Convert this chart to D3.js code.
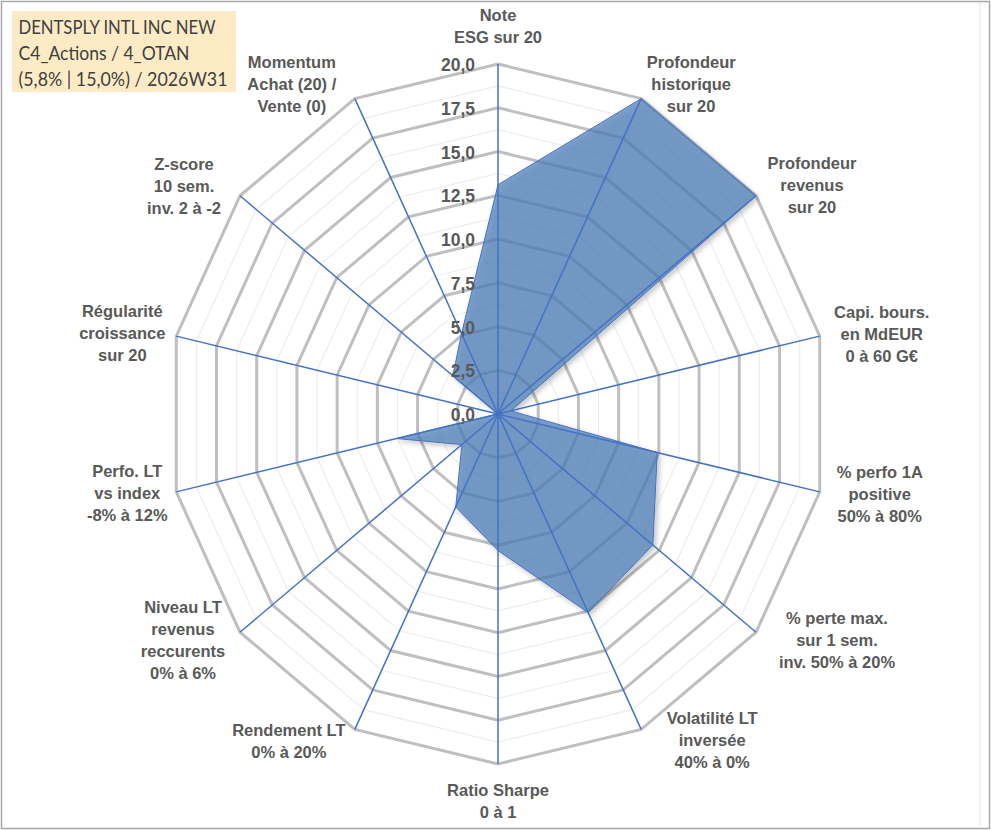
<!DOCTYPE html>
<html>
<head>
<meta charset="utf-8">
<script src="https://cdn.jsdelivr.net/npm/d3@7"></script>
<style>
  html, body { margin: 0; padding: 0; background: #fff; }
  svg { display: block; }
  .lbl { font-family: "Liberation Sans", Arial, sans-serif; font-weight: bold; }
  .ttl { font-family: "Lato", "Open Sans", sans-serif; }
</style>
</head>
<body>
<svg id="chart" width="991" height="830"></svg>
<script>
// ---- Data ----
const axisLabels = [
  ["Note", "ESG sur 20"],
  ["Profondeur", "historique", "sur 20"],
  ["Profondeur", "revenus", "sur 20"],
  ["Capi. bours.", "en MdEUR", "0 à 60 G€"],
  ["% perfo 1A", "positive", "50% à 80%"],
  ["% perte max.", "sur 1 sem.", "inv. 50% à 20%"],
  ["Volatilité LT", "inversée", "40% à 0%"],
  ["Ratio Sharpe", "0 à 1"],
  ["Rendement LT", "0% à 20%"],
  ["Niveau LT", "revenus", "reccurents", "0% à 6%"],
  ["Perfo. LT", "vs index", "-8% à 12%"],
  ["Régularité", "croissance", "sur 20"],
  ["Z-score", "10 sem.", "inv. 2 à -2"],
  ["Momentum", "Achat (20) /", "Vente (0)"]
];
const seriesValues = [13.1, 20, 20, 0.8, 9.9, 12.0, 12.6, 7.8, 5.9, 2.8, 6.3, 0, 3.5, 5.1];
const tickValues = [0, 2.5, 5, 7.5, 10, 12.5, 15, 17.5, 20];
const tickLabels = ["0,0", "2,5", "5,0", "7,5", "10,0", "12,5", "15,0", "17,5", "20,0"];
const titleLines = ["DENTSPLY INTL INC NEW", "C4_Actions / 4_OTAN", "(5,8% | 15,0%) / 2026W31"];

// ---- Layout ----
const W = 991, H = 830;
const cx = 498, cy = 414;
const RX = 330, RY = 350;
const N = axisLabels.length;
// label centre offsets relative to the outer end of each spoke
const labelOffsets = [
  [0, -38], [50, -14], [56, -10], [62, -2], [60, 3], [81, 8], [71, 11],
  [0, 37], [-66, 12], [-57, 8], [-49, 2], [-54, -3], [-56, -9], [-63, -14]
];
const titleWidths = [197, 171, 209];

const svg = d3.select("#chart");
const r = d3.scaleLinear().domain([0, 20]).range([0, 1]);
const angle = d3.scaleLinear().domain([0, N]).range([0, 2 * Math.PI]);
const px = (i, v) => cx + r(v) * RX * Math.sin(angle(i));
const py = (i, v) => cy - r(v) * RY * Math.cos(angle(i));

const defs = svg.append("defs");
const f = defs.append("filter").attr("id", "shadow")
  .attr("x", "-20%").attr("y", "-20%").attr("width", "140%").attr("height", "140%");
f.append("feDropShadow").attr("dx", 2.5).attr("dy", 2.5).attr("stdDeviation", 2.5)
  .attr("flood-color", "#000").attr("flood-opacity", 0.3);

// background + border
svg.append("rect").attr("x", 0).attr("y", 0).attr("width", W).attr("height", H).attr("fill", "#fff");
svg.append("rect").attr("x", 1.5).attr("y", 1.5).attr("width", W - 3).attr("height", H - 3)
  .attr("fill", "none").attr("stroke", "#a6a6a6").attr("stroke-width", 1.5);
svg.append("line").attr("x1", 980).attr("x2", 980).attr("y1", 2).attr("y2", H - 4)
  .attr("stroke", "#e3e3e3").attr("stroke-width", 1);

const ring = v => d3.range(N).map(i => [px(i, v), py(i, v)]);
const line = d3.line().curve(d3.curveLinearClosed);

// minor grid
const minorVals = d3.range(1.25, 20, 2.5);
svg.append("g").selectAll("path").data(minorVals).join("path")
  .attr("d", v => line(ring(v)))
  .attr("fill", "none").attr("stroke", "#ededed").attr("stroke-width", 1.2);

// major grid
svg.append("g").selectAll("path").data(tickValues.filter(v => v > 0)).join("path")
  .attr("d", v => line(ring(v)))
  .attr("fill", "none").attr("stroke", "#bfbfbf").attr("stroke-width", 3)
  .attr("stroke-linejoin", "miter");

// series polygon
svg.append("path")
  .attr("d", line(seriesValues.map((v, i) => [px(i, v), py(i, v)])))
  .attr("fill", "#4f7fb8").attr("fill-opacity", 0.72)
  .attr("stroke", "#4472c4").attr("stroke-width", 1)
  .attr("filter", "url(#shadow)");

// spokes
svg.append("g").selectAll("line").data(d3.range(N)).join("line")
  .attr("x1", cx).attr("y1", cy)
  .attr("x2", i => px(i, 20)).attr("y2", i => py(i, 20))
  .attr("stroke", "#4472c4").attr("stroke-width", 1.5);

// tick labels
svg.append("g").selectAll("text").data(tickValues).join("text")
  .attr("class", "lbl")
  .attr("x", 475).attr("y", v => py(0, v) + 7)
  .attr("text-anchor", "end")
  .attr("font-size", 17.5)
  .attr("fill", "#595959")
  .text((v, i) => tickLabels[i]);

// axis labels
const lh = 22;
const lg = svg.append("g").attr("class", "lbl")
  .attr("font-size", 16.5)
  .attr("fill", "#595959").attr("text-anchor", "middle");
axisLabels.forEach((lines, i) => {
  const x0 = px(i, 20) + labelOffsets[i][0];
  const y0 = py(i, 20) + labelOffsets[i][1];
  const t = lg.append("text");
  lines.forEach((s, k) => {
    t.append("tspan").attr("x", x0)
      .attr("y", y0 - (lines.length - 1) * lh / 2 + k * lh + 5.5)
      .text(s);
  });
});

// title box
svg.append("rect").attr("x", 12).attr("y", 11).attr("width", 224).attr("height", 81)
  .attr("fill", "#fdebc6");
svg.append("g").selectAll("text").data(titleLines).join("text")
  .attr("class", "ttl")
  .attr("x", 18.5).attr("y", (d, i) => 33.5 + i * 26.3)
  .attr("font-size", 19.5).attr("fill", "#404040")
  .attr("textLength", (d, i) => titleWidths[i])
  .attr("lengthAdjust", "spacingAndGlyphs")
  .text(d => d);
</script>
</body>
</html>
